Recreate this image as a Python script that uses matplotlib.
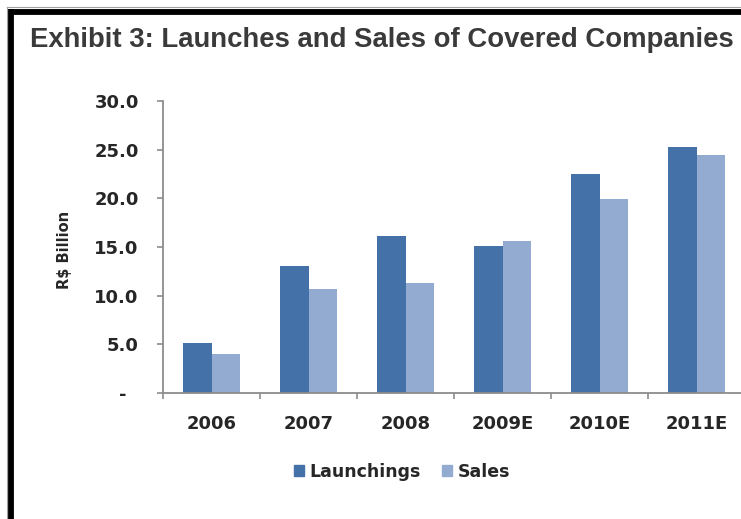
import matplotlib
matplotlib.use('Agg')
import matplotlib.pyplot as plt
from matplotlib.lines import Line2D
from matplotlib.patches import Patch
import numpy as np

years = ['2006', '2007', '2008', '2009E', '2010E', '2011E']
launchings = [5.1, 13.0, 16.1, 15.1, 22.5, 25.3]
sales = [4.0, 10.7, 11.3, 15.6, 19.9, 24.5]
yticks = [0, 5, 10, 15, 20, 25, 30]
ytick_labels = ['-  ', '5.0', '10.0', '15.0', '20.0', '25.0', '30.0']

c_launch = '#4472a8'
c_sales = '#94abd1'
txt = '#262626'

plt.rcParams['font.family'] = ['DejaVu Sans']

W, H = 741, 519
fig = plt.figure(figsize=(W / 100, H / 100), dpi=100)
fig.patch.set_facecolor('white')

# axes in pixel terms: spine at x=163, baseline y=393, top y=101, 97 px per category
ax = fig.add_axes([163 / W, (H - 393) / H, 582 / W, 292 / H])
x = np.arange(len(years))
bw = 0.29
ax.bar(x - bw / 2, launchings, bw, color=c_launch, label='Launchings')
ax.bar(x + bw / 2, sales, bw, color=c_sales, label='Sales')

ax.set_xlim(-0.5, len(years) - 0.5)
ax.set_ylim(0, 30)
for s in ['top', 'right']:
    ax.spines[s].set_visible(False)
for s in ['left', 'bottom']:
    ax.spines[s].set_color('#8c8c8c')
    ax.spines[s].set_linewidth(1.3)

ax.set_yticks(yticks)
ax.set_yticklabels(ytick_labels)
ax.tick_params(axis='y', direction='out', length=4.5, width=1.2, color='#8c8c8c',
               pad=13, labelsize=13, labelcolor=txt)
ax.set_xticks(x)
ax.set_xticklabels(years)
ax.set_xticks(np.arange(-0.5, len(years), 1), minor=True)
ax.tick_params(axis='x', which='major', length=0, pad=16, labelsize=13, labelcolor=txt)
ax.tick_params(axis='x', which='minor', direction='out', length=4, width=1.2, color='#8c8c8c')
for lab in ax.get_xticklabels() + ax.get_yticklabels():
    lab.set_fontweight('bold')

fig.text(65 / W, 1 - 250 / H, 'R$ Billion', rotation=90, ha='center', va='center',
         fontsize=10.5, fontweight='bold', color=txt)

handles = [Patch(color=c_launch, label='Launchings'), Patch(color=c_sales, label='Sales')]
fig.legend(handles=handles, loc='center', bbox_to_anchor=(402 / W, 1 - 472 / H), ncol=2,
           frameon=False, prop={'weight': 'bold', 'size': 12.5}, handlelength=0.6,
           handleheight=0.6, handletextpad=0.3, columnspacing=1.2, labelcolor=txt)

title = fig.text(30 / W, 1 - 40 / H, 'Exhibit 3: Launches and Sales of Covered Companies',
                 ha='left', va='center', fontsize=18, fontweight='bold', color='#3a3a3a',
                 family=['Liberation Sans Narrow', 'Liberation Sans'])
fig.canvas.draw()
tw = title.get_window_extent().width
title.set_fontsize(18 * 705 / tw)

# frame around the exhibit (only left and top edges fall inside the picture)
fig.add_artist(Line2D([7 / W, 7 / W], [0, 1 - 7 / H], color='#a0a0a0', lw=0.8))
fig.add_artist(Line2D([7 / W, 1], [1 - 7 / H, 1 - 7 / H], color='#a0a0a0', lw=0.8))
fig.add_artist(Line2D([11 / W, 11 / W], [0, 1 - 9 / H], color='black', lw=4.2,
                      solid_capstyle='butt'))
fig.add_artist(Line2D([9 / W, 1], [1 - 11.5 / H, 1 - 11.5 / H], color='black', lw=4.2,
                      solid_capstyle='butt'))

fig.savefig('out.png', dpi=100)
